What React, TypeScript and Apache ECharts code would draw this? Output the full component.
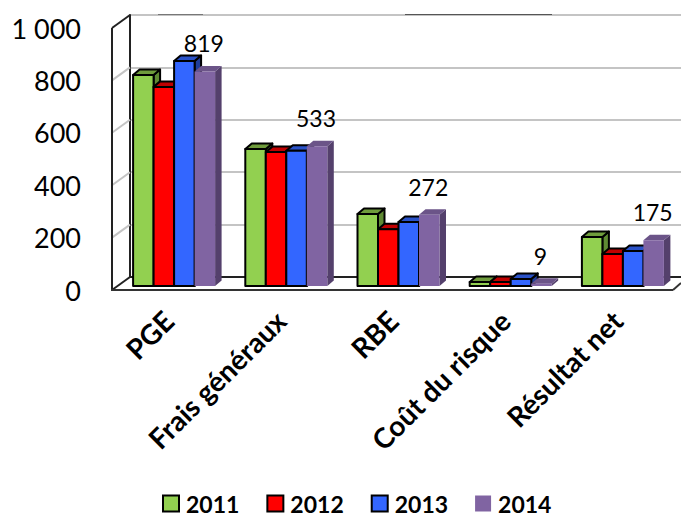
import React, { useEffect, useRef } from "react";
import * as echarts from "echarts";

const categories = ["PGE", "Frais généraux", "RBE", "Coût du risque", "Résultat net"];
const years = ["2011", "2012", "2013", "2014"];
const values2011 = [805, 523, 275, 15, 187];
const values2012 = [760, 511, 217, 15, 122];
const values2013 = [859, 516, 244, 27, 134];
const values2014 = [819, 533, 272, 9, 175];
const valueTicks = [0, 200, 400, 600, 800, 1000];

const fontFamily = "Lato, 'Open Sans', sans-serif";

const palette = [
  { front: "#92D050", top: "#6F9C3C", side: "#5F8A33", stroke: "#000000", width: 2 },
  { front: "#FF0000", top: "#C00000", side: "#A80000", stroke: "#000000", width: 2 },
  { front: "#3366FF", top: "#2A52C8", side: "#1F3D99", stroke: "#000000", width: 2 },
  { front: "#8064A2", top: "#6B5488", side: "#54406C", stroke: "none", width: 0 },
];

const DEPTH_X = 6.5;
const DEPTH_Y = 5.5;
const BAR_WIDTH = 20.5;
// Bars stand midway between the front edge of the floor and the back wall.
const FLOOR_LIFT = 4;

function barSeries(name: string, values: number[], index: number, showValue: boolean) {
  const c = palette[index];
  return {
    type: "custom",
    name,
    xAxisIndex: 0,
    yAxisIndex: 0,
    z: 5 + index,
    clip: false,
    itemStyle: { color: c.front },
    encode: { x: 0, y: 1 },
    data: values.map((v, i) => [i, v]),
    renderItem: (_p: any, api: any) => {
      const catIdx = api.value(0);
      const val = api.value(1);
      const top = api.coord([catIdx, val]);
      const base = api.coord([catIdx, 0]);
      const x0 = top[0] + (index - 2) * BAR_WIDTH;
      const x1 = x0 + BAR_WIDTH;
      const y0 = top[1] - FLOOR_LIFT;
      const y1 = base[1] - FLOOR_LIFT;
      const stroke = { stroke: c.stroke, lineWidth: c.width, lineJoin: "round" };
      const children: any[] = [
        {
          type: "polygon",
          shape: { points: [[x1, y0], [x1 + DEPTH_X, y0 - DEPTH_Y], [x1 + DEPTH_X, y1 - DEPTH_Y], [x1, y1]] },
          style: { fill: c.side, ...stroke },
        },
        {
          type: "polygon",
          shape: { points: [[x0, y0], [x0 + DEPTH_X, y0 - DEPTH_Y], [x1 + DEPTH_X, y0 - DEPTH_Y], [x1, y0]] },
          style: { fill: c.top, ...stroke },
        },
        {
          type: "rect",
          shape: { x: x0, y: y0, width: BAR_WIDTH, height: y1 - y0 },
          style: { fill: c.front, ...stroke },
        },
      ];
      if (showValue) {
        children.push({
          type: "text",
          style: {
            text: String(val),
            x: x0 + BAR_WIDTH / 2 - 1,
            y: y0 - 28,
            textAlign: "center",
            textVerticalAlign: "middle",
            fontFamily,
            fontSize: 23,
            fill: "#000000",
          },
        });
      }
      return { type: "group", children };
    },
  };
}

// Slanted ticks on the left wall, running from the front edge back to each grid line.
const wallSeries = {
  type: "custom",
  name: "wall",
  xAxisIndex: 0,
  yAxisIndex: 0,
  z: 2,
  silent: true,
  clip: false,
  encode: { y: 0 },
  data: valueTicks.map((v) => [v]),
  renderItem: (_p: any, api: any) => {
    const y = api.coord([0, api.value(0)])[1];
    const isFloor = api.value(0) === 0;
    const isTop = api.value(0) === 1000;
    return {
      type: "line",
      shape: { x1: 112, y1: y, x2: 130, y2: y - 13 },
      style: {
        stroke: isFloor || isTop ? "#222222" : "#C4C4C4",
        lineWidth: 2,
      },
    };
  },
};

export default function App() {
  const ref = useRef<HTMLDivElement>(null);

  useEffect(() => {
    const chart = echarts.init(ref.current!, undefined, { renderer: "svg" });
    chart.setOption({
      animation: false,
      backgroundColor: "#FFFFFF",
      textStyle: { fontFamily },
      legend: {
        data: years.map((name, i) => ({
          name,
          icon: "rect",
          itemStyle: {
            color: palette[i].front,
            borderColor: palette[i].stroke === "none" ? "transparent" : "#000000",
            borderWidth: palette[i].width,
          },
        })),
        left: 162,
        top: 492,
        itemWidth: 16,
        itemHeight: 16,
        itemGap: 27,
        padding: 0,
        selectedMode: false,
        textStyle: {
          fontFamily,
          fontSize: 23,
          fontWeight: "bold",
          color: "#000000",
          lineHeight: 18,
          padding: [0, 0, 0, 2],
        },
      },
      grid: [
        { left: 118, right: 2, top: 28, bottom: 226 },
        { left: 130, right: 0, top: 15, bottom: 239 },
      ],
      xAxis: [
        {
          type: "category",
          gridIndex: 0,
          data: categories,
          axisLine: { show: false },
          axisTick: { show: false },
          axisLabel: {
            rotate: 45,
            interval: 0,
            margin: 20,
            padding: [0, 8, 0, 0],
            fontFamily,
            fontSize: 28,
            fontWeight: "bold",
            color: "#000000",
          },
        },
        {
          type: "category",
          gridIndex: 1,
          data: categories,
          axisLine: { show: true, lineStyle: { color: "#222222", width: 2 } },
          axisTick: { show: false },
          axisLabel: { show: false },
        },
      ],
      yAxis: [
        {
          type: "value",
          gridIndex: 0,
          min: 0,
          max: 1000,
          interval: 200,
          axisLine: { show: false },
          axisTick: { show: false },
          splitLine: { show: false },
          axisLabel: {
            margin: 37,
            fontFamily,
            fontSize: 27,
            color: "#000000",
            formatter: (v: number) => (v >= 1000 ? `${Math.floor(v / 1000)} ${String(v % 1000).padStart(3, "0")}` : String(v)),
          },
        },
        {
          type: "value",
          gridIndex: 1,
          min: 0,
          max: 1000,
          interval: 200,
          axisLine: { show: true, lineStyle: { color: "#222222", width: 2 } },
          axisTick: { show: false },
          axisLabel: { show: false },
          splitLine: { show: true, lineStyle: { color: "#C4C4C4", width: 2 } },
        },
      ],
      graphic: [
        // Front edges of the left wall and the floor, and the stray dark runs along the top line.
        { type: "line", z: 3, shape: { x1: 112, y1: 28, x2: 112, y2: 290 }, style: { stroke: "#222222", lineWidth: 2 } },
        { type: "line", z: 3, shape: { x1: 111, y1: 290, x2: 673, y2: 290 }, style: { stroke: "#333333", lineWidth: 2 } },
        { type: "line", z: 3, shape: { x1: 673, y1: 290, x2: 681, y2: 283 }, style: { stroke: "#333333", lineWidth: 2 } },
        { type: "line", z: 3, shape: { x1: 158, y1: 14.5, x2: 203, y2: 14.5 }, style: { stroke: "#777777", lineWidth: 1 } },
        { type: "line", z: 3, shape: { x1: 405, y1: 14.5, x2: 552, y2: 14.5 }, style: { stroke: "#555555", lineWidth: 1 } },
      ],
      series: [
        wallSeries,
        barSeries(years[0], values2011, 0, false),
        barSeries(years[1], values2012, 1, false),
        barSeries(years[2], values2013, 2, false),
        barSeries(years[3], values2014, 3, true),
      ],
    });
    return () => chart.dispose();
  }, []);

  return <div ref={ref} style={{ width: 681, height: 516, position: "absolute", left: 0, top: 0 }} />;
}
